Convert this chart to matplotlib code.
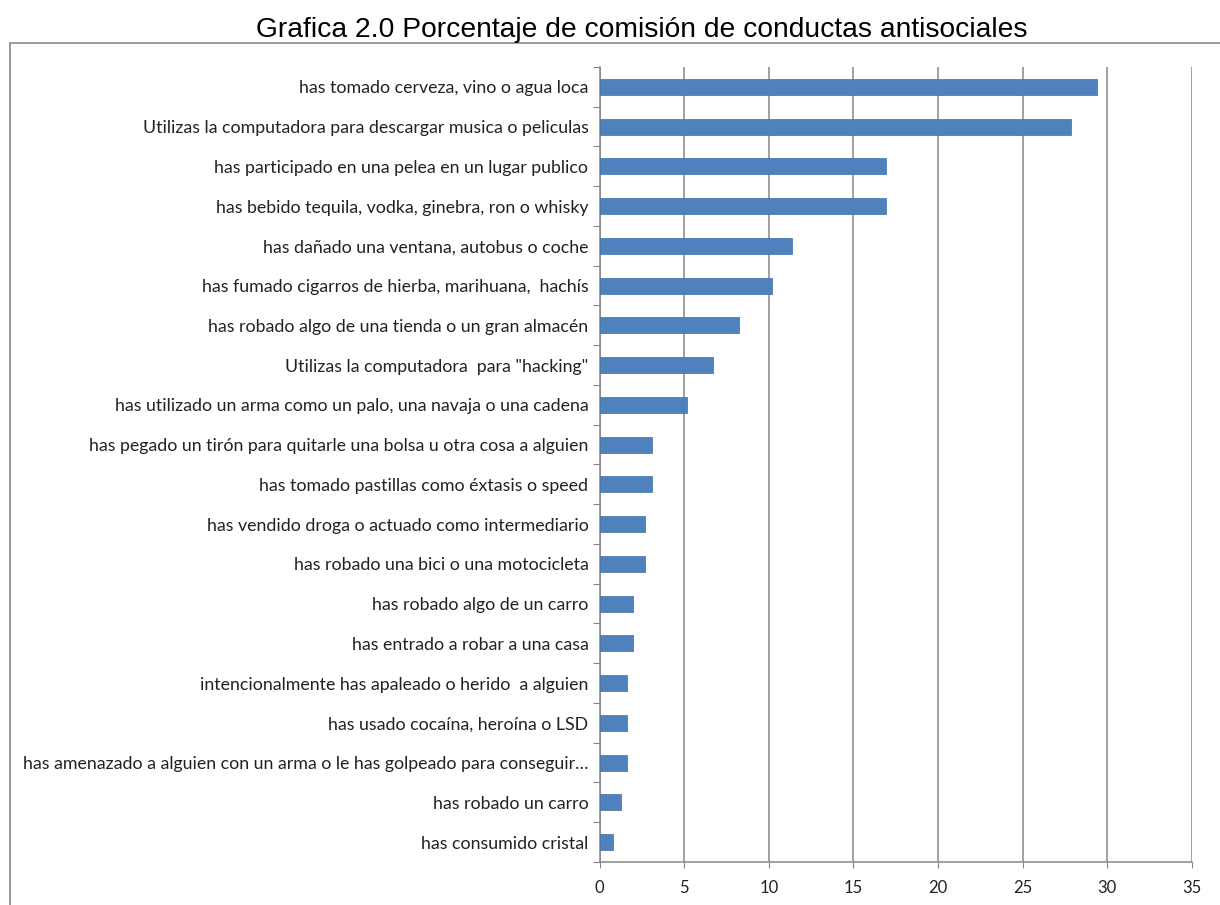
import matplotlib
matplotlib.use("Agg")
import matplotlib.pyplot as plt
from matplotlib.patches import Rectangle

# categories, top to bottom as in the chart
labels = [
    "has tomado cerveza, vino o agua loca",
    "Utilizas la computadora para descargar musica o peliculas",
    "has participado en una pelea en un lugar publico",
    "has bebido tequila, vodka, ginebra, ron o whisky",
    "has dañado una ventana, autobus o coche",
    "has fumado cigarros de hierba, marihuana,  hachís",
    "has robado algo de una tienda o un gran almacén",
    "Utilizas la computadora  para \"hacking\"",
    "has utilizado un arma como un palo, una navaja o una cadena",
    "has pegado un tirón para quitarle una bolsa u otra cosa a alguien",
    "has tomado pastillas como éxtasis o speed",
    "has vendido droga o actuado como intermediario",
    "has robado una bici o una motocicleta",
    "has robado algo de un carro",
    "has entrado a robar a una casa",
    "intencionalmente has apaleado o herido  a alguien",
    "has usado cocaína, heroína o LSD",
    "has amenazado a alguien con un arma o le has golpeado para conseguir…",
    "has robado un carro",
    "has consumido cristal",
]
values = [29.4, 27.85, 16.94, 16.94, 11.38, 10.2, 8.23, 6.7, 5.17, 3.12,
          3.12, 2.69, 2.69, 1.99, 1.99, 1.65, 1.65, 1.65, 1.25, 0.82]
xticks = [0, 5, 10, 15, 20, 25, 30, 35]

title = "Grafica 2.0 Porcentaje de comisión de conductas antisociales"

grid_col = "#868686"
bar_col = "#4F81BD"

fig = plt.figure(figsize=(12.2, 9.05), dpi=100)
fig.patch.set_facecolor("white")

# chart border (runs off the right and bottom edges)
fig.patches.append(Rectangle((10 / 1220, -0.01), 1.0, 1 - 43 / 905 + 0.01,
                             transform=fig.transFigure, fill=False,
                             edgecolor="#9a9a9a", linewidth=1.4))

fig.text(642 / 1220, 1 - 30 / 905, title, ha="center", va="center",
         fontsize=20.3, family="Liberation Sans")

ax = fig.add_axes([599.5 / 1220, 1 - 862 / 905, (1192 - 599.5) / 1220, (862 - 67) / 905])
pos = list(range(len(labels)))
ax.barh(pos, values, height=0.4, color=bar_col, edgecolor="#3f6fa8", linewidth=0.5, zorder=3)
ax.set_ylim(len(labels) - 0.5, -0.5)
ax.set_xlim(0, 35)

ax.set_xticks(xticks)
ax.set_xticklabels([str(t) for t in xticks], family="Lato", fontsize=12, color="#222222")
ax.tick_params(axis="x", length=4, color=grid_col, pad=9)
ax.grid(axis="x", color=grid_col, linewidth=1.1, zorder=0)

# ticks at category boundaries, labels at centers
ax.set_yticks([p - 0.5 for p in pos] + [len(labels) - 0.5])
ax.set_yticklabels([])
ax.tick_params(axis="y", which="major", length=5, color=grid_col)
ax.set_yticks(pos, minor=True)
ax.set_yticklabels(labels, minor=True, family="Lato", fontsize=12.8, color="#222222")
ax.tick_params(axis="y", which="minor", length=0, pad=8)

for s in ["top", "right"]:
    ax.spines[s].set_visible(False)
for s in ["left", "bottom"]:
    ax.spines[s].set_color(grid_col)
    ax.spines[s].set_linewidth(1.1)

fig.savefig("out.png", dpi=100, facecolor="white")
